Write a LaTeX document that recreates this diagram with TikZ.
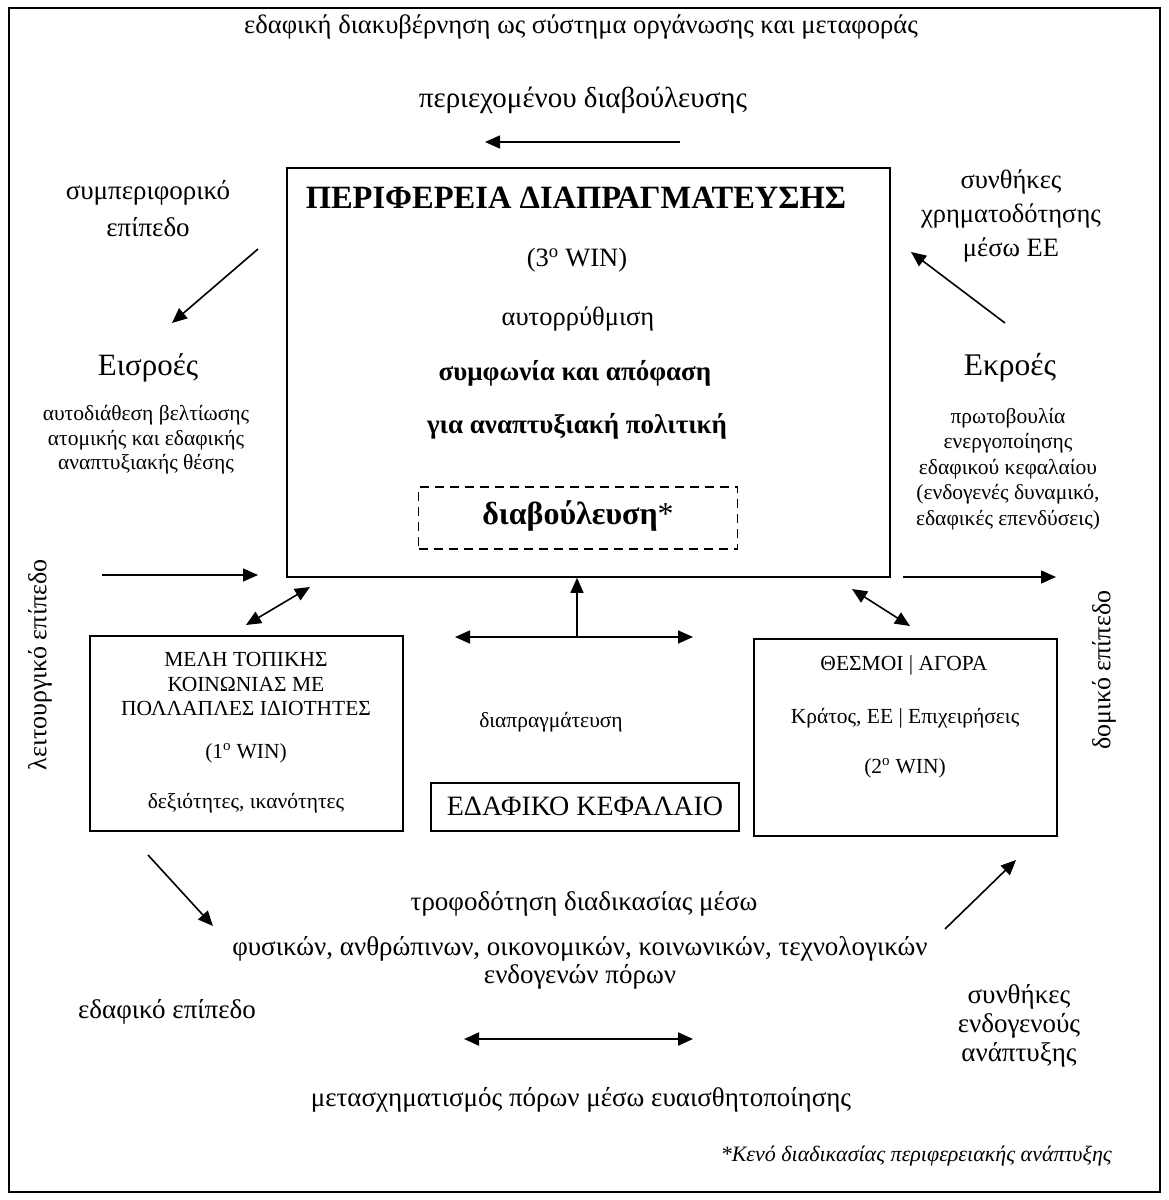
\documentclass[tikz,border=0pt]{standalone}
\usepackage{fontspec}
\setmainfont{Liberation Serif}
\usetikzlibrary{arrows.meta}
\tikzset{
  x=1pt, y=-1pt,
  lbl/.style={font=\fontsize{27}{34}\selectfont, align=center, inner sep=0pt},
  sml/.style={font=\fontsize{21.5}{24.5}\selectfont, align=center, inner sep=0pt},
  big/.style={font=\fontsize{31}{36}\selectfont, inner sep=0pt},
  boxed/.style={draw, line width=1.6pt, inner sep=0pt},
  arr/.style={line width=1.6pt, -{Triangle[length=15pt,width=13pt]}},
  darr/.style={line width=1.6pt, {Triangle[length=15pt,width=13pt]}-{Triangle[length=15pt,width=13pt]}},
}
\begin{document}
\begin{tikzpicture}
\useasboundingbox (0,0) rectangle (1169,1200);
% outer frame
\draw[line width=1.6pt] (9,8) rectangle (1160,1192);

% top texts
\node[lbl, font=\fontsize{26.6}{30}\selectfont] (title) at (581,27) {εδαφική διακυβέρνηση ως σύστημα οργάνωσης και μεταφοράς};
\node[lbl, font=\fontsize{29}{33}\selectfont] (peri) at (583,100) {περιεχομένου διαβούλευσης};
\coordinate (ta1) at (680,142);
\coordinate (ta2) at (485,142);
\draw[arr] (ta1) -- (ta2);

% main box
\node[boxed, minimum width=603pt, minimum height=409pt] (main) at (588.5,372.5) {};
\node[font=\fontsize{32.5}{36}\selectfont\bfseries, inner sep=0pt] (mtitle) at (576,198) {ΠΕΡΙΦΕΡΕΙΑ ΔΙΑΠΡΑΓΜΑΤΕΥΣΗΣ};
\node[lbl, font=\fontsize{26.5}{30}\selectfont] (win3) at (577,260) {(3\textsuperscript{o} WIN)};
\node[lbl, font=\fontsize{26.5}{30}\selectfont] (auto) at (578,319) {αυτορρύθμιση};
\node[lbl, font=\fontsize{27}{30}\selectfont\bfseries] (symf) at (575,373) {συμφωνία και απόφαση};
\node[lbl, font=\fontsize{27}{30}\selectfont\bfseries] (gia) at (577,426) {για αναπτυξιακή πολιτική};
\node[draw, line width=1.6pt, dash pattern=on 9pt off 6pt, minimum width=319pt, minimum height=62pt, inner sep=0pt] (diab) at (578,518) {};
\node[font=\fontsize{32}{36}\selectfont, inner sep=0pt] (diabt) at (578,516) {\textbf{διαβούλευση}*};

% left side
\node[lbl, font=\fontsize{27}{37}\selectfont] (symp) at (148,209) {συμπεριφορικό\\επίπεδο};
\coordinate (la1) at (258,249);
\coordinate (la2) at (172,323);
\draw[arr] (la1) -- (la2);
\node[big] (eis) at (148,368) {Εισροές};
\node[sml] (eisd) at (146,440) {αυτοδιάθεση βελτίωσης\\ατομικής και εδαφικής\\αναπτυξιακής θέσης};
\coordinate (lh1) at (102,575);
\coordinate (lh2) at (258,575);
\draw[arr] (lh1) -- (lh2);
\node[lbl, font=\fontsize{26}{30}\selectfont, rotate=90] (leit) at (40,665) {λειτουργικό επίπεδο};

% left box
\node[boxed, minimum width=313pt, minimum height=195pt] (lbox) at (246.5,733.5) {};
\node[sml] (l1) at (246,684) {ΜΕΛΗ ΤΟΠΙΚΗΣ\\ΚΟΙΝΩΝΙΑΣ ΜΕ\\ΠΟΛΛΑΠΛΕΣ ΙΔΙΟΤΗΤΕΣ};
\node[sml] (l2) at (246,753) {(1\textsuperscript{o} WIN)};
\node[sml] (l3) at (246,803) {δεξιότητες, ικανότητες};
\coordinate (ld1) at (246,625);
\coordinate (ld2) at (310,587);
\draw[darr] (ld1) -- (ld2);

% centre
\coordinate (hub) at (577,637);
\coordinate (hl) at (455,637);
\coordinate (hr) at (693,637);
\draw[darr] (hl) -- (hr);
\draw[arr] (hub) -- (hub |- main.south);
\node[sml] (diap) at (551,722) {διαπραγμάτευση};
\node[boxed, minimum width=308pt, minimum height=48pt] (kef) at (585,807) {};
\node[lbl, font=\fontsize{28}{32}\selectfont] (keft) at (585,806) {ΕΔΑΦΙΚΟ ΚΕΦΑΛΑΙΟ};

% right box
\node[boxed, minimum width=303pt, minimum height=197pt] (rbox) at (905.5,737.5) {};
\node[sml] (r1) at (904,665) {ΘΕΣΜΟΙ | ΑΓΟΡΑ};
\node[sml] (r2) at (905,718) {Κράτος, ΕΕ | Επιχειρήσεις};
\node[sml] (r3) at (905,768) {(2\textsuperscript{o} WIN)};
\coordinate (rd1) at (852,589);
\coordinate (rd2) at (910,626);
\draw[darr] (rd1) -- (rd2);

% right side
\node[lbl, font=\fontsize{26.5}{34}\selectfont] (synth) at (1011,216) {συνθήκες\\χρηματοδότησης\\μέσω ΕΕ};
\coordinate (ra1) at (1005,323);
\coordinate (ra2) at (911,252);
\draw[arr] (ra1) -- (ra2);
\node[big, font=\fontsize{31.5}{36}\selectfont] (ekr) at (1010,368) {Εκροές};
\node[sml, font=\fontsize{21.5}{25.5}\selectfont] (ekrd) at (1008,469) {πρωτοβουλία\\ενεργοποίησης\\εδαφικού κεφαλαίου\\(ενδογενές δυναμικό,\\εδαφικές επενδύσεις)};
\coordinate (rh1) at (903,577);
\coordinate (rh2) at (1056,577);
\draw[arr] (rh1) -- (rh2);
\node[lbl, font=\fontsize{26}{30}\selectfont, rotate=90] (domi) at (1104,670) {δομικό επίπεδο};

% bottom
\coordinate (ba1) at (148,855);
\coordinate (ba2) at (213,926);
\draw[arr] (ba1) -- (ba2);
\coordinate (bb1) at (945,929);
\coordinate (bb2) at (1016,860);
\draw[arr] (bb1) -- (bb2);
\node[lbl] (trof) at (584,904) {τροφοδότηση διαδικασίας μέσω};
\node[lbl, font=\fontsize{27}{28.5}\selectfont] (fys) at (580,963) {φυσικών, ανθρώπινων, οικονομικών, κοινωνικών, τεχνολογικών\\ενδογενών πόρων};
\node[lbl] (edaf) at (167,1012) {εδαφικό επίπεδο};
\node[lbl, font=\fontsize{27}{29}\selectfont] (synd) at (1019,1026) {συνθήκες\\ενδογενούς\\ανάπτυξης};
\coordinate (bh1) at (464,1039);
\coordinate (bh2) at (693,1039);
\draw[darr, line width=2.2pt] (bh1) -- (bh2);
\node[lbl] (meta) at (581,1100) {μετασχηματισμός πόρων μέσω ευαισθητοποίησης};
\node[font=\fontsize{22}{26}\selectfont\itshape, inner sep=0pt, anchor=east] (note) at (1112,1156) {*Κενό διαδικασίας περιφερειακής ανάπτυξης};
\end{tikzpicture}
\end{document}
